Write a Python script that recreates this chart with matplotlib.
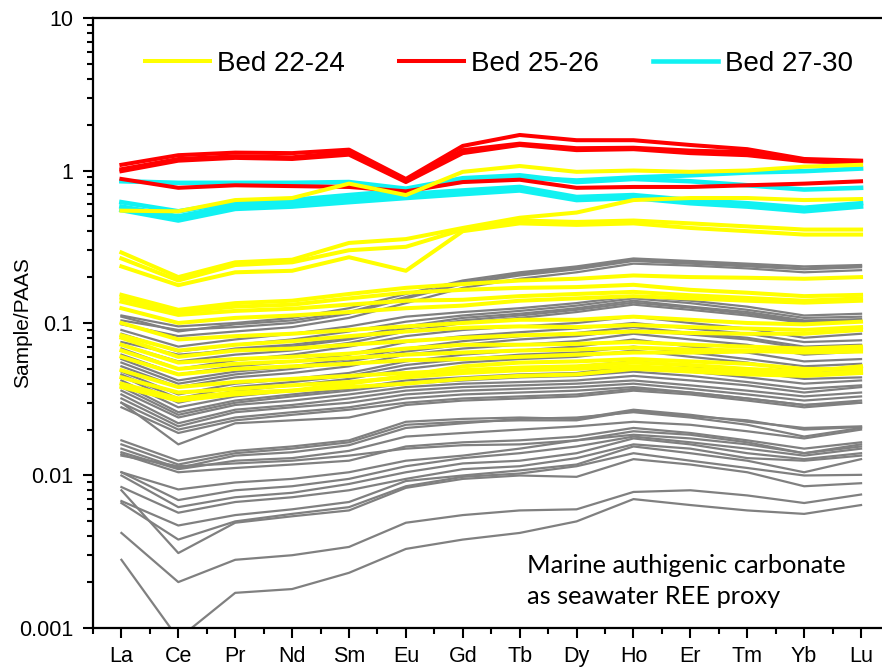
import numpy as np
import matplotlib
matplotlib.use('Agg')
import matplotlib.pyplot as plt
from matplotlib.ticker import FixedLocator, LogLocator, FuncFormatter, NullFormatter

plt.rcParams['font.family'] = 'Liberation Sans'

elements = ['La', 'Ce', 'Pr', 'Nd', 'Sm', 'Eu', 'Gd', 'Tb', 'Dy', 'Ho', 'Er', 'Tm', 'Yb', 'Lu']

# PAAS-normalised REE patterns, one list per sample
bed_27_30 = [
    [0.85, 0.83, 0.83, 0.83, 0.84, 0.76, 0.89, 0.93, 0.84, 0.88, 0.85, 0.80, 0.75, 0.77],
    [0.62, 0.54, 0.62, 0.64, 0.69, 0.74, 0.85, 0.90, 0.86, 0.90, 0.93, 0.97, 0.99, 1.03],
    [0.58, 0.50, 0.59, 0.61, 0.65, 0.70, 0.74, 0.78, 0.67, 0.69, 0.64, 0.61, 0.57, 0.61],
    [0.55, 0.47, 0.56, 0.58, 0.62, 0.66, 0.70, 0.74, 0.64, 0.66, 0.61, 0.58, 0.54, 0.58],
]

bed_25_26 = [
    [1.09, 1.26, 1.31, 1.30, 1.37, 0.88, 1.45, 1.71, 1.58, 1.58, 1.47, 1.38, 1.19, 1.16],
    [1.02, 1.19, 1.24, 1.22, 1.32, 0.86, 1.36, 1.50, 1.40, 1.41, 1.35, 1.32, 1.17, 1.14],
    [0.99, 1.16, 1.21, 1.19, 1.27, 0.84, 1.30, 1.47, 1.36, 1.38, 1.30, 1.26, 1.15, 1.12],
    [0.88, 0.77, 0.80, 0.79, 0.78, 0.73, 0.84, 0.87, 0.77, 0.78, 0.78, 0.80, 0.82, 0.85],
]

bed_22_24 = [
    [0.545, 0.54, 0.64, 0.66, 0.82, 0.69, 0.98, 1.07, 0.98, 1.00, 0.98, 1.00, 1.06, 1.09],
    [0.29, 0.20, 0.25, 0.26, 0.335, 0.355, 0.42, 0.49, 0.53, 0.64, 0.66, 0.66, 0.64, 0.65],
    [0.265, 0.19, 0.24, 0.25, 0.30, 0.316, 0.41, 0.47, 0.46, 0.47, 0.45, 0.43, 0.41, 0.41],
    [0.235, 0.177, 0.215, 0.22, 0.27, 0.22, 0.40, 0.45, 0.44, 0.45, 0.42, 0.40, 0.38, 0.38],
    [0.153, 0.122, 0.135, 0.140, 0.155, 0.170, 0.180, 0.190, 0.195, 0.205, 0.200, 0.198, 0.195, 0.200],
    [0.146, 0.118, 0.128, 0.132, 0.145, 0.158, 0.165, 0.170, 0.172, 0.178, 0.165, 0.158, 0.150, 0.153],
    [0.138, 0.113, 0.120, 0.124, 0.132, 0.140, 0.142, 0.150, 0.155, 0.160, 0.152, 0.146, 0.140, 0.145],
    [0.125, 0.100, 0.108, 0.112, 0.118, 0.125, 0.130, 0.140, 0.145, 0.150, 0.145, 0.140, 0.136, 0.140],
    [0.100, 0.078, 0.082, 0.085, 0.090, 0.095, 0.100, 0.105, 0.105, 0.110, 0.105, 0.100, 0.098, 0.102],
    [0.083, 0.066, 0.072, 0.076, 0.082, 0.088, 0.093, 0.095, 0.094, 0.097, 0.094, 0.092, 0.090, 0.094],
    [0.080, 0.060, 0.066, 0.068, 0.072, 0.076, 0.080, 0.083, 0.085, 0.088, 0.086, 0.085, 0.085, 0.090],
    [0.072, 0.055, 0.058, 0.060, 0.063, 0.068, 0.072, 0.072, 0.073, 0.075, 0.072, 0.070, 0.068, 0.070],
    [0.066, 0.050, 0.054, 0.056, 0.059, 0.062, 0.064, 0.066, 0.067, 0.069, 0.067, 0.066, 0.064, 0.065],
    [0.060, 0.046, 0.050, 0.052, 0.054, 0.057, 0.058, 0.060, 0.062, 0.064, 0.064, 0.065, 0.066, 0.068],
    [0.049, 0.038, 0.041, 0.043, 0.045, 0.047, 0.049, 0.051, 0.052, 0.055, 0.053, 0.050, 0.048, 0.052],
    [0.044, 0.035, 0.037, 0.039, 0.041, 0.044, 0.047, 0.049, 0.050, 0.052, 0.050, 0.048, 0.046, 0.048],
    [0.040, 0.032, 0.035, 0.036, 0.038, 0.040, 0.043, 0.045, 0.046, 0.050, 0.048, 0.046, 0.045, 0.047],
    [0.038, 0.031, 0.034, 0.036, 0.040, 0.045, 0.052, 0.055, 0.056, 0.058, 0.056, 0.054, 0.050, 0.050],
]

other_beds = [
    [0.112, 0.095, 0.100, 0.108, 0.125, 0.155, 0.190, 0.215, 0.235, 0.265, 0.255, 0.245, 0.235, 0.240],
    [0.110, 0.088, 0.098, 0.104, 0.118, 0.148, 0.185, 0.210, 0.230, 0.260, 0.250, 0.240, 0.228, 0.236],
    [0.104, 0.090, 0.094, 0.100, 0.115, 0.145, 0.180, 0.205, 0.225, 0.255, 0.245, 0.235, 0.225, 0.232],
    [0.098, 0.082, 0.088, 0.094, 0.108, 0.135, 0.170, 0.195, 0.215, 0.245, 0.238, 0.228, 0.215, 0.222],
    [0.090, 0.070, 0.078, 0.085, 0.095, 0.110, 0.118, 0.125, 0.135, 0.150, 0.140, 0.128, 0.112, 0.115],
    [0.085, 0.065, 0.072, 0.078, 0.088, 0.102, 0.112, 0.120, 0.130, 0.145, 0.135, 0.122, 0.108, 0.110],
    [0.080, 0.060, 0.068, 0.072, 0.080, 0.095, 0.108, 0.115, 0.125, 0.140, 0.128, 0.118, 0.104, 0.106],
    [0.075, 0.062, 0.066, 0.070, 0.078, 0.092, 0.104, 0.112, 0.122, 0.136, 0.126, 0.115, 0.102, 0.105],
    [0.072, 0.056, 0.062, 0.066, 0.074, 0.088, 0.100, 0.108, 0.118, 0.132, 0.122, 0.112, 0.100, 0.103],
    [0.068, 0.050, 0.057, 0.062, 0.070, 0.082, 0.090, 0.095, 0.100, 0.110, 0.100, 0.092, 0.080, 0.085],
    [0.062, 0.046, 0.052, 0.056, 0.062, 0.075, 0.082, 0.087, 0.092, 0.100, 0.092, 0.085, 0.075, 0.077],
    [0.058, 0.042, 0.048, 0.052, 0.058, 0.068, 0.076, 0.082, 0.086, 0.094, 0.086, 0.080, 0.070, 0.072],
    [0.055, 0.040, 0.046, 0.050, 0.056, 0.065, 0.072, 0.078, 0.082, 0.090, 0.084, 0.078, 0.068, 0.070],
    [0.052, 0.038, 0.044, 0.047, 0.052, 0.062, 0.068, 0.072, 0.076, 0.085, 0.078, 0.072, 0.062, 0.065],
    [0.048, 0.034, 0.040, 0.043, 0.047, 0.056, 0.062, 0.066, 0.070, 0.078, 0.070, 0.064, 0.056, 0.058],
    [0.046, 0.032, 0.038, 0.041, 0.045, 0.053, 0.058, 0.062, 0.064, 0.070, 0.064, 0.058, 0.052, 0.054],
    [0.045, 0.030, 0.036, 0.039, 0.043, 0.050, 0.055, 0.058, 0.060, 0.066, 0.060, 0.055, 0.048, 0.050],
    [0.042, 0.028, 0.033, 0.036, 0.040, 0.045, 0.048, 0.050, 0.052, 0.056, 0.052, 0.048, 0.043, 0.044],
    [0.040, 0.026, 0.031, 0.034, 0.037, 0.042, 0.044, 0.046, 0.047, 0.052, 0.048, 0.044, 0.040, 0.042],
    [0.038, 0.025, 0.030, 0.033, 0.036, 0.040, 0.042, 0.044, 0.045, 0.048, 0.045, 0.041, 0.037, 0.039],
    [0.036, 0.024, 0.029, 0.031, 0.034, 0.038, 0.040, 0.041, 0.042, 0.045, 0.042, 0.039, 0.035, 0.038],
    [0.034, 0.022, 0.027, 0.029, 0.032, 0.036, 0.038, 0.039, 0.040, 0.042, 0.039, 0.036, 0.033, 0.035],
    [0.032, 0.021, 0.026, 0.028, 0.030, 0.034, 0.036, 0.037, 0.038, 0.040, 0.037, 0.034, 0.031, 0.033],
    [0.030, 0.020, 0.024, 0.026, 0.028, 0.032, 0.034, 0.035, 0.036, 0.038, 0.035, 0.032, 0.029, 0.031],
    [0.030, 0.016, 0.022, 0.023, 0.024, 0.029, 0.031, 0.032, 0.033, 0.036, 0.034, 0.031, 0.028, 0.030],
    [0.028, 0.019, 0.023, 0.025, 0.027, 0.030, 0.032, 0.033, 0.034, 0.037, 0.035, 0.032, 0.029, 0.030],
    [0.0170, 0.0125, 0.0145, 0.0155, 0.0170, 0.0225, 0.0235, 0.0240, 0.0235, 0.0270, 0.0250, 0.0225, 0.0205, 0.0210],
    [0.0160, 0.0118, 0.0140, 0.0150, 0.0165, 0.0215, 0.0225, 0.0230, 0.0230, 0.0265, 0.0245, 0.0230, 0.0200, 0.0208],
    [0.0150, 0.0112, 0.0135, 0.0142, 0.0158, 0.0205, 0.0220, 0.0235, 0.0240, 0.0260, 0.0240, 0.0215, 0.0180, 0.0205],
    [0.0142, 0.0110, 0.0125, 0.0130, 0.0145, 0.0180, 0.0190, 0.0200, 0.0210, 0.0225, 0.0215, 0.0195, 0.0175, 0.0200],
    [0.0138, 0.0105, 0.0112, 0.0118, 0.0125, 0.0155, 0.0165, 0.0170, 0.0180, 0.0205, 0.0190, 0.0170, 0.0150, 0.0165],
    [0.0135, 0.0115, 0.0120, 0.0125, 0.0135, 0.0150, 0.0158, 0.0160, 0.0170, 0.0195, 0.0185, 0.0165, 0.0140, 0.0155],
    [0.0105, 0.0081, 0.0090, 0.0095, 0.0105, 0.0125, 0.0135, 0.0150, 0.0170, 0.0185, 0.0175, 0.0160, 0.0140, 0.0160],
    [0.0105, 0.0069, 0.0080, 0.0085, 0.0095, 0.0115, 0.0130, 0.0140, 0.0155, 0.0180, 0.0165, 0.0150, 0.0135, 0.0150],
    [0.0100, 0.0062, 0.0072, 0.0077, 0.0088, 0.0105, 0.0120, 0.0125, 0.0140, 0.0175, 0.0160, 0.0140, 0.0128, 0.0140],
    [0.0084, 0.0057, 0.0067, 0.0072, 0.0080, 0.0095, 0.0110, 0.0115, 0.0130, 0.0160, 0.0150, 0.0130, 0.0125, 0.0135],
    [0.0068, 0.0047, 0.0055, 0.0060, 0.0067, 0.0092, 0.0100, 0.0108, 0.0118, 0.0155, 0.0140, 0.0125, 0.0105, 0.0128],
    [0.0066, 0.0038, 0.0050, 0.0056, 0.0062, 0.0085, 0.0098, 0.0103, 0.0115, 0.0140, 0.0125, 0.0112, 0.0100, 0.0101],
    [0.0080, 0.0031, 0.0049, 0.0054, 0.0059, 0.0083, 0.0095, 0.0100, 0.0098, 0.0128, 0.0118, 0.0105, 0.0085, 0.0089],
    [0.0042, 0.0020, 0.0028, 0.0030, 0.0034, 0.0049, 0.0055, 0.0059, 0.0060, 0.0078, 0.0080, 0.0074, 0.0066, 0.0075],
    [0.0028, 0.00085, 0.0017, 0.0018, 0.0023, 0.0033, 0.0038, 0.0042, 0.0050, 0.0070, 0.0064, 0.0059, 0.0056, 0.0064],
]

x = np.arange(len(elements))

fig = plt.figure(figsize=(8.82, 6.72), dpi=100)
ax = fig.add_axes([0.1054, 0.0655, 0.9031, 0.9077])

for vals in other_beds:
    ax.plot(x, vals, color='#808080', lw=1.6, zorder=2)
for i, vals in enumerate(bed_22_24):
    ax.plot(x, vals, color='#ffff00', lw=2.9, zorder=5,
            label='Bed 22-24' if i == 0 else None)
for i, vals in enumerate(bed_25_26):
    ax.plot(x, vals, color='#ff0000', lw=2.9, zorder=4,
            label='Bed 25-26' if i == 0 else None)
for i, vals in enumerate(bed_27_30):
    ax.plot(x, vals, color='#11f2f2', lw=3.3, zorder=3,
            label='Bed 27-30' if i == 0 else None)

ax.set_yscale('log')
ax.set_ylim(0.001, 10)
ax.set_xlim(-0.5, len(elements) - 0.5)

ax.set_xticks(x)
ax.set_xticklabels(elements)
ax.xaxis.set_minor_locator(FixedLocator(np.arange(-0.5, len(elements), 1.0)))
ax.yaxis.set_major_locator(LogLocator(base=10, numticks=10))
ax.yaxis.set_minor_locator(LogLocator(base=10, subs=np.arange(2, 10), numticks=20))
ax.yaxis.set_major_formatter(FuncFormatter(lambda v, _: f'{v:g}'))
ax.yaxis.set_minor_formatter(NullFormatter())

ax.tick_params(axis='both', which='major', direction='out', length=7, width=1.5,
               labelsize=15.5, pad=6)
ax.tick_params(axis='both', which='minor', direction='out', length=4.5, width=1.5)
ax.tick_params(axis='y', which='major', pad=7)

for side in ['left', 'top', 'bottom']:
    ax.spines[side].set_linewidth(1.6)
ax.spines['right'].set_visible(False)

ax.set_ylabel('Sample/PAAS', fontsize=15)
ax.yaxis.set_label_coords(-0.077, 0.5)

ax.legend(loc='center left', bbox_to_anchor=(0.065, 0.9246), ncol=3, frameon=False,
          fontsize=20, handlelength=2.34, handletextpad=0.25, columnspacing=1.95,
          borderpad=0, borderaxespad=0)

ax.text(0.5445, 0.122, 'Marine authigenic carbonate\nas seawater REE proxy',
        transform=ax.transAxes, ha='left', va='top', fontsize=18.3,
        family='Lato', linespacing=1.45, zorder=6)

fig.savefig('out.png', dpi=100)
